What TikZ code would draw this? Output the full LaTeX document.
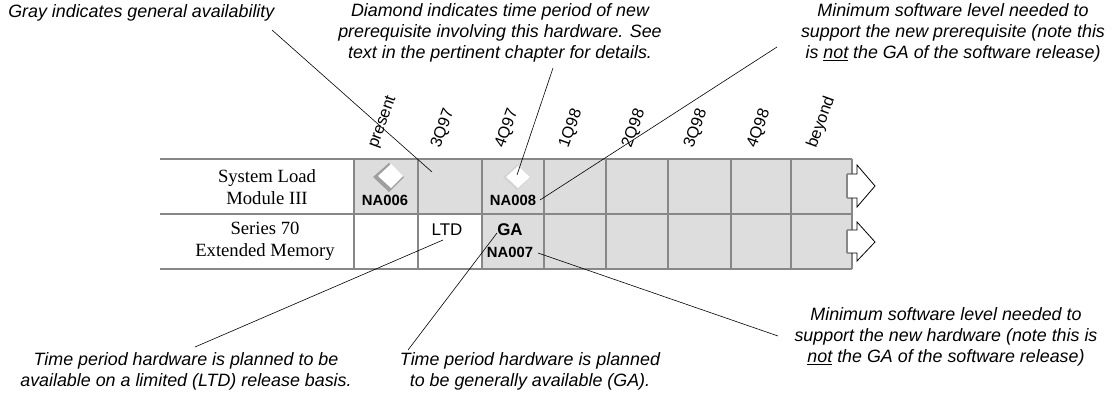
\documentclass[tikz,border=0pt]{standalone}
\usepackage{fontspec}
\setmainfont{Liberation Serif}
\newfontfamily\arialf{Liberation Sans}
\usetikzlibrary{calc}
\definecolor{cellgray}{RGB}{221,221,221}
\definecolor{gridgray}{RGB}{135,135,135}
\tikzset{
  callouttext/.style={inner sep=0pt, align=center, font=\arialf\itshape\fontsize{13.4}{15.7}\selectfont},
  rowlabel/.style={inner sep=0pt, align=center, font=\fontsize{14}{16.5}\selectfont},
  hdr/.style={inner sep=0pt, rotate=70, anchor=base west, font=\arialf\fontsize{12.2}{13}\selectfont},
  codetext/.style={inner sep=0pt, font=\arialf\bfseries\fontsize{11.1}{13}\selectfont},
  marktext/.style={inner sep=0pt, font=\arialf\fontsize{12.7}{14}\selectfont},
  gridline/.style={draw=gridgray, line width=1.1pt},
  callout/.style={draw=black, line width=0.45pt},
  blockarrow/.style={draw=black, fill=white, line width=0.6pt, line join=miter},
}
\begin{document}
\begin{tikzpicture}[x=0.75pt,y=-0.75pt]
\useasboundingbox (0,0) rectangle (1116,402);
% gray fills
\fill[cellgray] (354,159) rectangle (852,214);
\fill[cellgray] (482,214) rectangle (852,269);
% grid
\foreach \yy in {159,214,269} \draw[gridline] (160,\yy) -- (852,\yy);
\foreach \xx in {354,418,482,544,606,668,731,791,852} \draw[gridline] (\xx,159) -- (\xx,269);
% block arrows
\draw[blockarrow] (847,174) -- (857,174) -- (857,165) -- (875,186) -- (857,207) -- (857,198) -- (847,198);
\draw[gridgray, line width=1.6pt] (847,174) -- (847,198);
\draw[blockarrow] (847,230) -- (857,230) -- (857,222) -- (875,242) -- (857,261) -- (857,253) -- (847,253);
\draw[gridgray, line width=1.6pt] (847,230) -- (847,253);
% headers
\node[hdr] (hp) at (377,149) {present};
\node[hdr] (h1) at (440,149) {3Q97};
\node[hdr] (h2) at (504,149) {4Q97};
\node[hdr] (h3) at (568,149) {1Q98};
\node[hdr] (h4) at (631,149) {2Q98};
\node[hdr] (h5) at (693,149) {3Q98};
\node[hdr] (h6) at (756,149) {4Q98};
\node[hdr] (h7) at (816,149) {beyond};
% row labels
\node[rowlabel] (r1) at (267,187) {System Load\\Module III};
\node[rowlabel] (r2) at (265,241) {Series 70\\Extended Memory};
% diamonds
\fill[gray!75] (389,163) -- (404,177) -- (389,192) -- (373,177) -- cycle;
\fill[white] (391,164) -- (403,176) -- (391,188) -- (378,176) -- cycle;
\fill[gray!35] (517,165) -- (531,177) -- (517,190) -- (503,177) -- cycle;
\fill[white] (518,166) -- (530,177) -- (518,188) -- (506,177) -- cycle;
\coordinate (d2) at (517,175);
% cell texts
\node[codetext] (na6) at (385,200) {NA006};
\node[codetext] (na8) at (513,200) {NA008};
\node[marktext] (ltd) at (447,230) {LTD};
\node[codetext, font=\arialf\bfseries\fontsize{12.7}{14}\selectfont] (ga) at (510,230) {GA};
\node[codetext] (na7) at (510,252) {NA007};
% callout texts
\node[callouttext, anchor=west] (t1) at (8,13) {Gray indicates general availability};
\node[callouttext] (t2) at (500,33) {Diamond indicates time period of new\\prerequisite involving this hardware. See\\text in the pertinent chapter for details.};
\node[callouttext] (t3) at (953,33) {Minimum software level needed to\\support the new prerequisite (note this\\is \underline{not} the GA of the software release)};
\node[callouttext] (t4) at (186,371) {Time period hardware is planned to be\\available on a limited (LTD) release basis.};
\node[callouttext] (t5) at (530,371) {Time period hardware is planned\\to be generally available (GA).};
\node[callouttext] (t6) at (946,337) {Minimum software level needed to\\support the new hardware (note this is\\\underline{not} the GA of the software release)};
% callout ends
\coordinate (c1a) at (272,30);   \coordinate (c1b) at (432,172);
\coordinate (c2a) at (553,68);
\coordinate (c3a) at (777,47);   \coordinate (c3b) at (540,200);
\coordinate (c4a) at (195,347);  \coordinate (c4b) at (443,240);
\coordinate (c5a) at (408,350);  \coordinate (c5b) at (497,233);
\coordinate (c6a) at (538,253);  \coordinate (c6b) at (778,336);
\draw[callout] (c1a) -- (c1b);
\draw[callout] (c2a) -- (d2);
\draw[callout] (c3a) -- (c3b);
\draw[callout] (c4a) -- (c4b);
\draw[callout] (c5a) -- (c5b);
\draw[callout] (c6a) -- (c6b);
\end{tikzpicture}
\end{document}
